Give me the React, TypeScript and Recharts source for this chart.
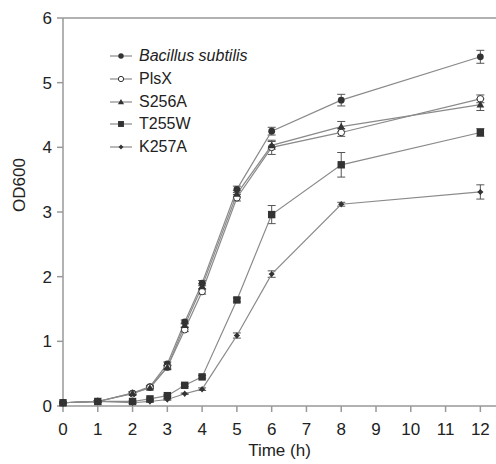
import React from "react"
import {
  LineChart, Line, XAxis, YAxis, ErrorBar, ReferenceLine, Legend,
} from "recharts"

const times = [0, 1, 2, 2.5, 3, 3.5, 4, 5, 6, 8, 12]
const xTicks = [0, 1, 2, 3, 4, 5, 6, 7, 8, 9, 10, 11, 12]
const yTicks = [0, 1, 2, 3, 4, 5, 6]

const bsubValues = [0.05, 0.07, 0.2, 0.3, 0.65, 1.3, 1.9, 3.35, 4.25, 4.73, 5.4]
const bsubErrors = [0.01, 0.01, 0.02, 0.02, 0.03, 0.03, 0.04, 0.05, 0.06, 0.09, 0.1]
const plsxValues = [0.05, 0.07, 0.19, 0.29, 0.6, 1.18, 1.77, 3.22, 4.0, 4.23, 4.75]
const plsxErrors = [0.01, 0.01, 0.02, 0.02, 0.03, 0.03, 0.04, 0.05, 0.11, 0.06, 0.06]
const s256aValues = [0.05, 0.07, 0.2, 0.28, 0.6, 1.25, 1.85, 3.28, 4.03, 4.32, 4.66]
const s256aErrors = [0.01, 0.01, 0.02, 0.02, 0.03, 0.03, 0.04, 0.05, 0.06, 0.08, 0.09]
const t255wValues = [0.05, 0.07, 0.07, 0.11, 0.16, 0.32, 0.45, 1.64, 2.96, 3.73, 4.23]
const t255wErrors = [0.01, 0.01, 0.01, 0.01, 0.01, 0.02, 0.02, 0.03, 0.14, 0.19, 0.06]
const k257aValues = [0.05, 0.07, 0.05, 0.07, 0.1, 0.19, 0.26, 1.09, 2.04, 3.12, 3.31]
const k257aErrors = [0.01, 0.01, 0.01, 0.01, 0.01, 0.01, 0.02, 0.04, 0.05, 0.03, 0.11]

type Shape = "circle" | "open" | "triangle" | "square" | "star"

const series: { name: string; values: number[]; errors: number[]; shape: Shape }[] = [
  { name: "Bacillus subtilis", values: bsubValues, errors: bsubErrors, shape: "circle" },
  { name: "PlsX", values: plsxValues, errors: plsxErrors, shape: "open" },
  { name: "S256A", values: s256aValues, errors: s256aErrors, shape: "triangle" },
  { name: "T255W", values: t255wValues, errors: t255wErrors, shape: "square" },
  { name: "K257A", values: k257aValues, errors: k257aErrors, shape: "star" },
]

const LINE = "#8a8a8a"
const MARK = "#333"
const AXIS = "#999"
const FONT = "'Liberation Sans', Arial, sans-serif"

function Marker({ cx, cy, shape, size = 1 }: { cx: number; cy: number; shape: Shape; size?: number }) {
  if (cx == null || cy == null) return null
  const s = size
  if (shape === "circle") return <circle cx={cx} cy={cy} r={3.4 * s} fill={MARK} />
  if (shape === "open") return <circle cx={cx} cy={cy} r={3.3 * s} fill="#fff" stroke={MARK} strokeWidth={1} />
  if (shape === "triangle") {
    const r = 3.9 * s
    return <polygon points={`${cx},${cy - r} ${cx + r},${cy + r * 0.75} ${cx - r},${cy + r * 0.75}`} fill={MARK} />
  }
  if (shape === "square") {
    const h = 3.7 * s
    return <rect x={cx - h} y={cy - h} width={h * 2} height={h * 2} fill={MARK} />
  }
  const r = 3.2 * s
  return (
    <polygon
      points={`${cx},${cy - r} ${cx + r * 0.45},${cy - r * 0.45} ${cx + r},${cy} ${cx + r * 0.45},${cy + r * 0.45} ${cx},${cy + r} ${cx - r * 0.45},${cy + r * 0.45} ${cx - r},${cy} ${cx - r * 0.45},${cy - r * 0.45}`}
      fill={MARK}
    />
  )
}

function LegendBox() {
  return (
    <div style={{ fontFamily: FONT, fontSize: 16, color: "#222" }}>
      {series.map((s) => (
        <div key={s.name} style={{ display: "flex", alignItems: "center", height: 22.7 }}>
          <svg width={28} height={14} style={{ marginRight: 3 }}>
            <line x1={2} y1={7} x2={24} y2={7} stroke={LINE} strokeWidth={1.2} />
            <Marker cx={13} cy={7} shape={s.shape} size={0.8} />
          </svg>
          <span style={{ fontStyle: s.name === "Bacillus subtilis" ? "italic" : "normal" }}>{s.name}</span>
        </div>
      ))}
    </div>
  )
}

export default function App() {
  return (
    <div style={{ position: "absolute", left: 0, top: 0, width: 496, height: 464, background: "#fff" }}>
      <LineChart width={496} height={464} margin={{ top: 18, right: 0, bottom: 0, left: 0 }}>
        <XAxis
          type="number"
          dataKey="t"
          domain={[0, 12.45]}
          ticks={xTicks}
          interval={0}
          allowDuplicatedCategory={false}
          height={58}
          stroke={AXIS}
          strokeWidth={1.5}
          tickSize={6}
          tickMargin={11}
          tick={{ fill: "#222", fontSize: 17, fontFamily: FONT }}
          label={{ value: "Time (h)", position: "insideBottom", offset: 8, fill: "#222", fontSize: 17, fontFamily: FONT }}
        />
        <YAxis
          type="number"
          domain={[0, 6]}
          ticks={yTicks}
          interval={0}
          width={63}
          stroke={AXIS}
          strokeWidth={1.5}
          tickSize={6}
          tickMargin={5}
          tick={{ fill: "#222", fontSize: 17, fontFamily: FONT }}
          label={{ value: "OD600", angle: -90, position: "insideLeft", offset: 19, fill: "#222", fontSize: 17, fontFamily: FONT }}
        />
        <ReferenceLine y={6} stroke={AXIS} strokeWidth={1.5} />
        <Legend
          layout="vertical"
          verticalAlign="middle"
          align="center"
          content={() => <LegendBox />}
          wrapperStyle={{ left: 108, top: 45, width: 200 }}
        />
        {series.map((s) => (
          <Line
            key={s.name}
            name={s.name}
            data={times.map((t, i) => ({ t, v: s.values[i], e: s.errors[i] }))}
            dataKey="v"
            stroke={LINE}
            strokeWidth={1.2}
            isAnimationActive={false}
            dot={(p: any) => <Marker key={`${s.name}-${p.index}`} cx={p.cx} cy={p.cy} shape={s.shape} />}
            activeDot={false}
          >
            <ErrorBar dataKey="e" width={4} stroke="#555" strokeWidth={1} direction="y" />
          </Line>
        ))}
      </LineChart>
    </div>
  )
}
